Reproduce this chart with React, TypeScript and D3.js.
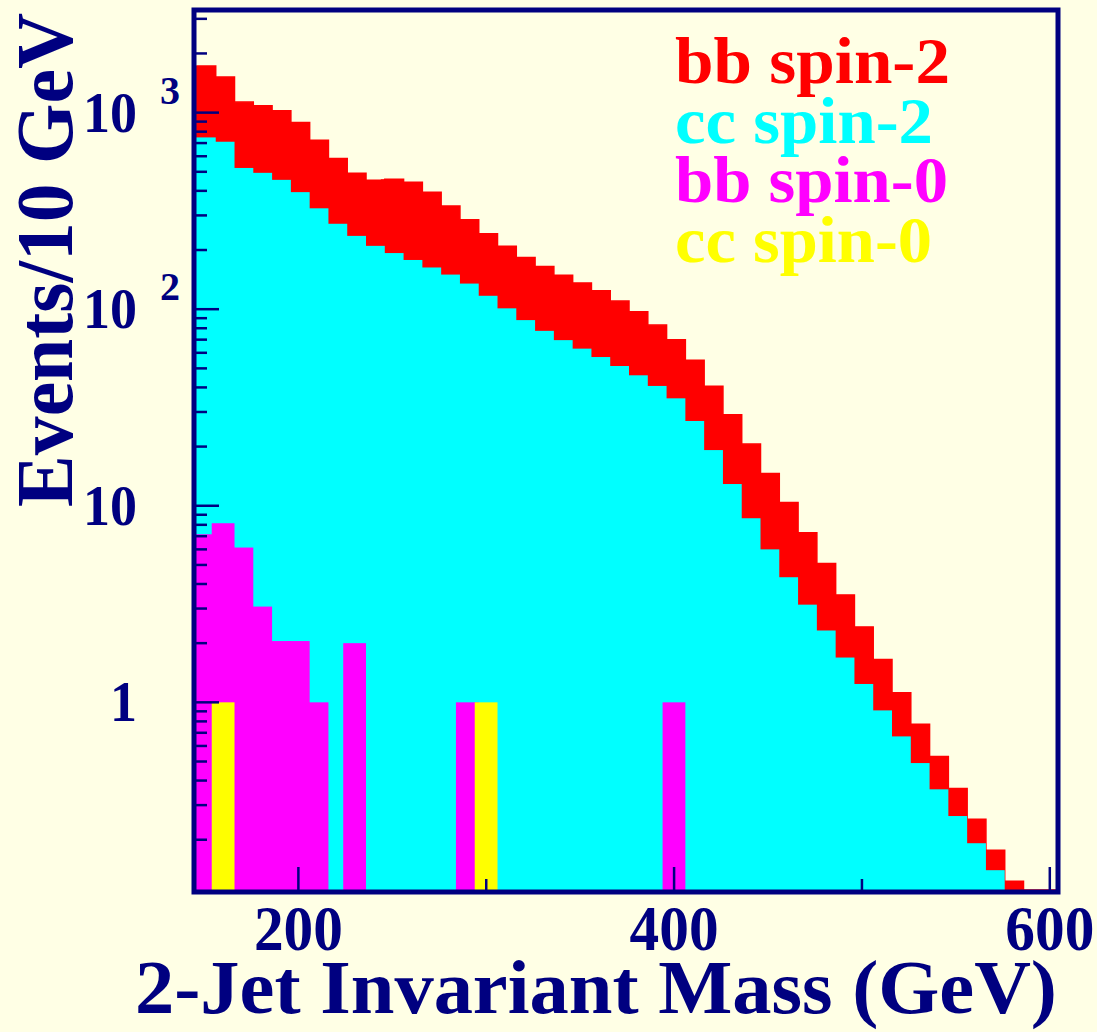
import React from "react";
import * as d3 from "d3";

// lower edges of the 10 GeV mass bins
const massBins = [146, 156, 166, 176, 186, 196, 206, 216, 226, 236, 246, 256, 266, 276, 286, 296, 306, 316, 326, 336, 346, 356, 366, 376, 386, 396, 406, 416, 426, 436, 446, 456, 466, 476, 486, 496, 506, 516, 526, 536, 546, 556, 566, 576, 586, 596];
const binWidth = 10;

const bbSpin2 = [1726, 1517, 1131, 1083, 1021, 891, 724, 585, 492, 453, 458, 443, 393, 335, 285, 242, 209, 183, 165, 149, 136, 124, 110, 97, 83, 70, 55, 40.5, 29, 20.6, 14.6, 10.4, 7.3, 5.08, 3.52, 2.42, 1.65, 1.12, 0.773, 0.531, 0.364, 0.254, 0.177, 0.123, 0, 0];
const ccSpin2 = [748, 711, 523, 494, 455, 394, 326, 272, 236, 210, 193, 178, 163, 150, 135, 117, 101, 88, 77.6, 69.6, 63, 57.1, 51.4, 46.1, 40.7, 35.2, 27, 19.2, 12.9, 8.64, 6.0, 4.33, 3.14, 2.32, 1.69, 1.24, 0.91, 0.671, 0.491, 0.361, 0.264, 0.192, 0.14, 0, 0, 0];
const bbSpin0 = [7.16, 8.15, 6.13, 3.07, 2.05, 2.05, 1, 0, 2, 0, 0, 0, 0, 0, 1, 0, 0, 0, 0, 0, 0, 0, 0, 0, 0, 1, 0, 0, 0, 0, 0, 0, 0, 0, 0, 0, 0, 0, 0, 0, 0, 0, 0, 0, 0, 0];
const ccSpin0 = [0, 1, 0, 0, 0, 0, 0, 0, 0, 0, 0, 0, 0, 0, 0, 1, 0, 0, 0, 0, 0, 0, 0, 0, 0, 0, 0, 0, 0, 0, 0, 0, 0, 0, 0, 0, 0, 0, 0, 0, 0, 0, 0, 0, 0, 0];

const xMajor = [200, 400, 600];
const xMinor = [300, 500];
const yMajor = [1, 10, 100, 1000];
const yLabels = [
    { v: 1000, base: "10", exp: "3" },
    { v: 100, base: "10", exp: "2" },
    { v: 10, base: "10", exp: "" },
    { v: 1, base: "1", exp: "" },
];
const legend = [
    { text: "bb spin-2", color: "#ff0000", len: 275 },
    { text: "cc spin-2", color: "#00ffff", len: 258 },
    { text: "bb spin-0", color: "#ff00ff", len: 273 },
    { text: "cc spin-0", color: "#ffff00", len: 257 },
];

const W = 1097, H = 1032;
const bg = "#ffffe5";
const navy = "#000080";
const font = "'Liberation Serif', 'Times New Roman', serif";
const plot = { left: 196, right: 1056, top: 12, bottom: 890 };
const barLead = 4; // ROOT's filled bars start a few px left of the bin edge

export default function App() {
    const x = d3.scaleLinear().domain([145.5, 603.3]).range([plot.left, plot.right]);
    const y = d3.scaleLog().domain([0.111, 3250]).range([plot.bottom, plot.top]);

    const minorY: number[] = [];
    [0.1, 1, 10, 100, 1000].forEach(dec => {
        for (let k = 2; k <= 9; k++) {
            const v = dec * k;
            if (v > 0.111 && v < 3250) minorY.push(v);
        }
    });

    const bars = (vals: number[], color: string) =>
        vals.map((v, i) => v > 0 ? (
            <rect key={i}
                x={x(massBins[i]) - barLead}
                y={y(v)}
                width={x(massBins[i] + binWidth) - x(massBins[i]) + barLead}
                height={plot.bottom - y(v)}
                fill={color} />
        ) : null);

    // outline of the red histogram, zero bins run along the bottom
    const yClamp = (v: number) => v > 0 ? y(v) : plot.bottom;
    let outline = `M${x(massBins[0])},${plot.bottom}`;
    bbSpin2.forEach((v, i) => {
        outline += `L${x(massBins[i])},${yClamp(v)}L${x(massBins[i] + binWidth)},${yClamp(v)}`;
    });
    outline += `L${plot.right},${plot.bottom}`;

    return (
        <svg width={W} height={H} style={{ position: "absolute", left: 0, top: 0, background: bg }}>
            <rect width={W} height={H} fill={bg} />
            <defs>
                <clipPath id="plotClip">
                    <rect x={plot.left} y={plot.top} width={plot.right - plot.left} height={plot.bottom - plot.top} />
                </clipPath>
            </defs>
            <g clipPath="url(#plotClip)">
                {bars(bbSpin2, "#ff0000")}
                <path d={outline} fill="none" stroke="#ff0000" strokeWidth={1.5} />
                {bars(ccSpin2, "#00ffff")}
                {bars(bbSpin0, "#ff00ff")}
                {bars(ccSpin0, "#ffff00")}
            </g>

            {/* ticks */}
            <g stroke={navy} strokeWidth={2.5}>
                {yMajor.map(v => <line key={"ym" + v} x1={plot.left} x2={plot.left + 23} y1={y(v)} y2={y(v)} />)}
                {minorY.map(v => <line key={"yn" + v} x1={plot.left} x2={plot.left + 11} y1={y(v)} y2={y(v)} />)}
                {xMajor.map(v => <line key={"xm" + v} x1={x(v)} x2={x(v)} y1={plot.bottom} y2={plot.bottom - 23} />)}
                {xMinor.map(v => <line key={"xn" + v} x1={x(v)} x2={x(v)} y1={plot.bottom} y2={plot.bottom - 11} />)}
            </g>

            {/* frame */}
            <rect x={194} y={10} width={864} height={882} fill="none" stroke={navy} strokeWidth={5} />

            {/* axis labels */}
            <g fill={navy} fontFamily={font} fontWeight="bold">
                {xMajor.map(v => (
                    <text key={"xl" + v} x={x(v)} y={950} fontSize={64} textAnchor="middle"
                        textLength={89} lengthAdjust="spacingAndGlyphs">{v}</text>
                ))}
                {yLabels.map(l => (
                    <g key={"yl" + l.v}>
                        <text x={137} y={y(l.v) + 19} fontSize={56} textAnchor="end"
                            textLength={l.base.length * 27} lengthAdjust="spacingAndGlyphs">{l.base}</text>
                        {l.exp && <text x={160} y={y(l.v) - 9} fontSize={40}>{l.exp}</text>}
                    </g>
                ))}
                <text x={135} y={1013} fontSize={77} textLength={922} lengthAdjust="spacingAndGlyphs">
                    2-Jet Invariant Mass (GeV)
                </text>
                <text transform="translate(72,507) rotate(-90)" fontSize={80} textLength={494}
                    lengthAdjust="spacingAndGlyphs">Events/10 GeV</text>
            </g>

            {/* legend */}
            <g fontFamily={font} fontWeight="bold" fontSize={66}>
                {legend.map((l, i) => (
                    <text key={l.text} x={675} y={83 + i * 59.7} fill={l.color}
                        textLength={l.len} lengthAdjust="spacingAndGlyphs">{l.text}</text>
                ))}
            </g>
        </svg>
    );
}
